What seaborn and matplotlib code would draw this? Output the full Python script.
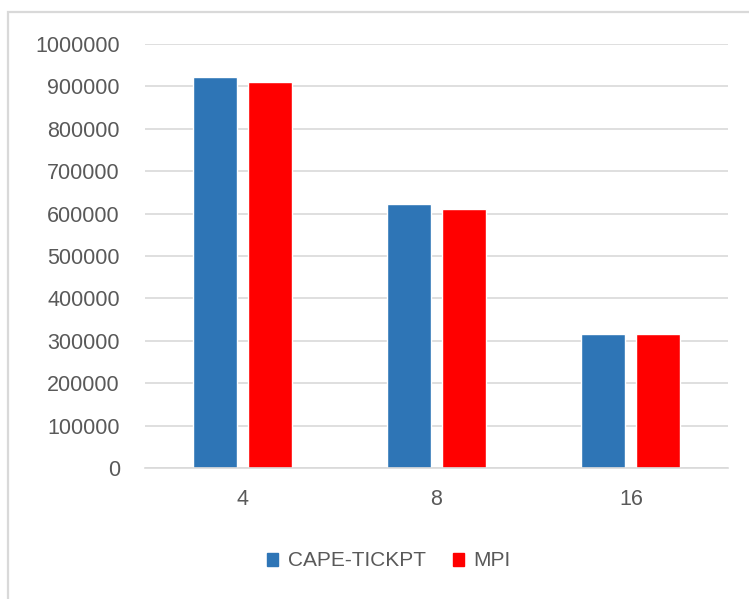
import matplotlib
matplotlib.use("Agg")
import matplotlib.pyplot as plt
import matplotlib.patches as mpatches
import seaborn as sns
import pandas as pd

# Data
categories = ["4", "8", "16"]
cape_tickpt = [922000, 622000, 315000]
mpi = [910000, 612000, 315000]
series_names = ["CAPE-TICKPT", "MPI"]
y_ticks = list(range(0, 1000001, 100000))

df = pd.DataFrame({
    "procs": categories * 2,
    "value": cape_tickpt + mpi,
    "series": [series_names[0]] * 3 + [series_names[1]] * 3,
})

sns.set_style("white")
plt.rcParams["font.family"] = ["Liberation Sans", "DejaVu Sans"]
text_color = "#595959"
grid_color = "#D9D9D9"

fig = plt.figure(figsize=(7.49, 5.99), dpi=100)
ax = fig.add_axes([145 / 749, 1 - 468 / 599, (728 - 145) / 749, (468 - 44) / 599])

sns.barplot(data=df, x="procs", y="value", hue="series", order=categories,
            hue_order=series_names, palette=["#2E75B6", "#FF0000"],
            width=0.566, gap=0.2, saturation=1, ax=ax, legend=False)

ax.set_ylim(0, 1000000)
ax.set_xlim(-0.5, 2.5)
ax.set_yticks(y_ticks)
ax.set_yticklabels([str(v) for v in y_ticks])
ax.yaxis.grid(True, color=grid_color, linewidth=1.2)
ax.set_axisbelow(True)
for side in ["top", "right", "left"]:
    ax.spines[side].set_visible(False)
ax.spines["bottom"].set_color(grid_color)
ax.spines["bottom"].set_linewidth(1.2)
ax.tick_params(axis="both", length=0, colors=text_color, labelsize=15.5)
ax.tick_params(axis="y", pad=18)
ax.tick_params(axis="x", pad=15)
ax.set_xlabel("")
ax.set_ylabel("")

# Legend below the plot
handles = [mpatches.Patch(color="#2E75B6", label=series_names[0]),
           mpatches.Patch(color="#FF0000", label=series_names[1])]
fig.legend(handles=handles, loc="center", bbox_to_anchor=(389 / 749, 1 - 561 / 599),
           ncol=2, frameon=False, handlelength=0.55, handleheight=0.6,
           handletextpad=0.45, columnspacing=1.3, labelcolor=text_color,
           fontsize=15)

# Chart area frame
fig.patches.append(mpatches.Rectangle((8 / 749, -0.1), 1.1, 1 - 12 / 599 + 0.1,
                                      transform=fig.transFigure, fill=False,
                                      edgecolor=grid_color, linewidth=1.6))

fig.savefig("out.png", dpi=100)
